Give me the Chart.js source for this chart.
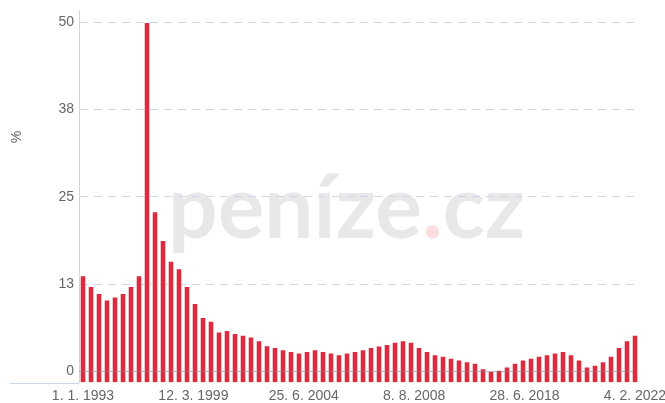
<!DOCTYPE html>
<html>
<head>
<meta charset="utf-8">
<script src="https://cdn.jsdelivr.net/npm/chart.js@4.4.1/dist/chart.umd.min.js"></script>
<style>
  html, body { margin: 0; padding: 0; background: #ffffff; }
  #wrap { position: relative; width: 665px; height: 403px; }
</style>
</head>
<body>
<div id="wrap"><canvas id="c" width="665" height="403"></canvas></div>
<script>
// ---- data ----
const values = [
  13.75, 12.2, 11.2, 10.26, 10.7, 11.2, 12.2, 13.75, 50, 22.9,
  18.8, 15.8, 14.75, 12.2, 9.75, 7.75, 7.2, 5.67, 5.9, 5.45,
  5.2, 4.96, 4.44, 3.72, 3.44, 3.15, 2.9, 2.66, 2.9, 3.15,
  2.9, 2.66, 2.43, 2.66, 2.9, 3.15, 3.44, 3.67, 3.9, 4.2,
  4.44, 4.2, 3.44, 2.9, 2.43, 2.2, 1.9, 1.66, 1.43, 1.19,
  0.43, 0.02, 0.19, 0.66, 1.19, 1.66, 1.9, 2.2, 2.43, 2.66,
  2.9, 2.43, 1.66, 0.66, 0.9, 1.43, 2.2, 3.44, 4.44, 5.2
];
const xTickLabels = ['1. 1. 1993', '12. 3. 1999', '25. 6. 2004', '8. 8. 2008', '28. 6. 2018', '4. 2. 2022'];
const yTicks = [0, 12.5, 25, 37.5, 50];
const yTitle = '%';
const watermarkParts = ['peníze', '.', 'cz'];

const Y_MIN = -1.6, Y_MAX = 51.76;
const FONT = "'Liberation Sans', Arial, sans-serif";
const LABEL_COLOR = '#666666';
const GRID_COLOR = '#ccd6eb';

const xTickValues = xTickLabels.map((_, k) => k * (values.length - 1) / (xTickLabels.length - 1));

const watermark = {
  id: 'watermark',
  beforeDraw(chart) {
    const ctx = chart.ctx;
    ctx.save();
    const txt = watermarkParts.join('');
    ctx.font = "bold 100px Lato, 'Open Sans', sans-serif";
    const w100 = ctx.measureText(txt).width;
    const size = 100 * 357 / w100;
    ctx.font = "bold " + size + "px Lato, 'Open Sans', sans-serif";
    ctx.textBaseline = 'alphabetic';
    ctx.textAlign = 'left';
    let x = 168, y = 238;
    const colors = ['#e8e8e8', '#f9dde0', '#e8e8e8'];
    watermarkParts.forEach((p, i) => {
      ctx.fillStyle = colors[i];
      ctx.fillText(p, x, y);
      x += ctx.measureText(p).width;
    });
    ctx.restore();
  },
  afterDatasetsDraw(chart) {
    const ctx = chart.ctx;
    const ys = chart.scales.y;
    const a = chart.chartArea;
    const y0 = Math.round(ys.getPixelForValue(0)) + 0.5;
    ctx.save();
    ctx.strokeStyle = 'rgba(130,130,150,0.55)';
    ctx.lineWidth = 1;
    ctx.beginPath();
    ctx.moveTo(a.left, y0);
    ctx.lineTo(a.right - 6, y0);
    ctx.stroke();
    // short base line left of plot
    ctx.strokeStyle = GRID_COLOR;
    ctx.beginPath();
    ctx.moveTo(10, Math.round(a.bottom) + 0.5);
    ctx.lineTo(a.left, Math.round(a.bottom) + 0.5);
    ctx.stroke();
    // y axis title
    ctx.fillStyle = LABEL_COLOR;
    ctx.font = "14px " + FONT;
    ctx.textAlign = 'center';
    ctx.textBaseline = 'middle';
    ctx.translate(17, 137);
    ctx.rotate(-Math.PI / 2);
    ctx.fillText(yTitle, 0, 0);
    ctx.restore();
  }
};

new Chart(document.getElementById('c'), {
  type: 'bar',
  data: {
    datasets: [{
      data: values.map((v, i) => ({ x: i, y: v })),
      base: Y_MIN,
      backgroundColor: '#df2a3e',
      borderColor: 'rgba(255,255,255,0.4)',
      borderWidth: 0.8,
      categoryPercentage: 1,
      barPercentage: 0.77
    }]
  },
  options: {
    responsive: false,
    animation: false,
    devicePixelRatio: 1,
    layout: { padding: { top: 10, right: 26, left: 0, bottom: 0 } },
    plugins: { legend: { display: false }, tooltip: { enabled: false } },
    scales: {
      x: {
        type: 'linear',
        offset: false,
        bounds: 'data',
        min: -0.5,
        max: values.length - 0.5,
        grid: { display: false, drawTicks: false, tickLength: 0, offset: false },
        border: { display: false },
        afterBuildTicks(scale) { scale.ticks = xTickValues.map(v => ({ value: v })); },
        afterFit(scale) { scale.height = 20.5; scale.paddingLeft = 0; scale.paddingRight = 0; },
        ticks: {
          autoSkip: false,
          maxRotation: 0,
          padding: 5,
          color: LABEL_COLOR,
          font: { family: FONT, size: 14 },
          callback(value, index) { return xTickLabels[index]; }
        }
      },
      y: {
        min: Y_MIN,
        max: Y_MAX,
        afterBuildTicks(scale) { scale.ticks = yTicks.map(v => ({ value: v })); },
        afterFit(scale) { scale.width = 79; scale.paddingTop = 0; scale.paddingBottom = 0; },
        grid: {
          drawTicks: false,
          color: ctx => (ctx.tick && ctx.tick.value === 0) ? 'rgba(0,0,0,0)' : GRID_COLOR,
          lineWidth: 1
        },
        border: { display: true, color: GRID_COLOR, width: 1, dash: [8, 6] },
        ticks: {
          padding: 5,
          color: LABEL_COLOR,
          font: { family: FONT, size: 14 },
          callback(value) { return String(Math.round(value)); }
        }
      }
    }
  },
  plugins: [watermark]
});
</script>
</body>
</html>
